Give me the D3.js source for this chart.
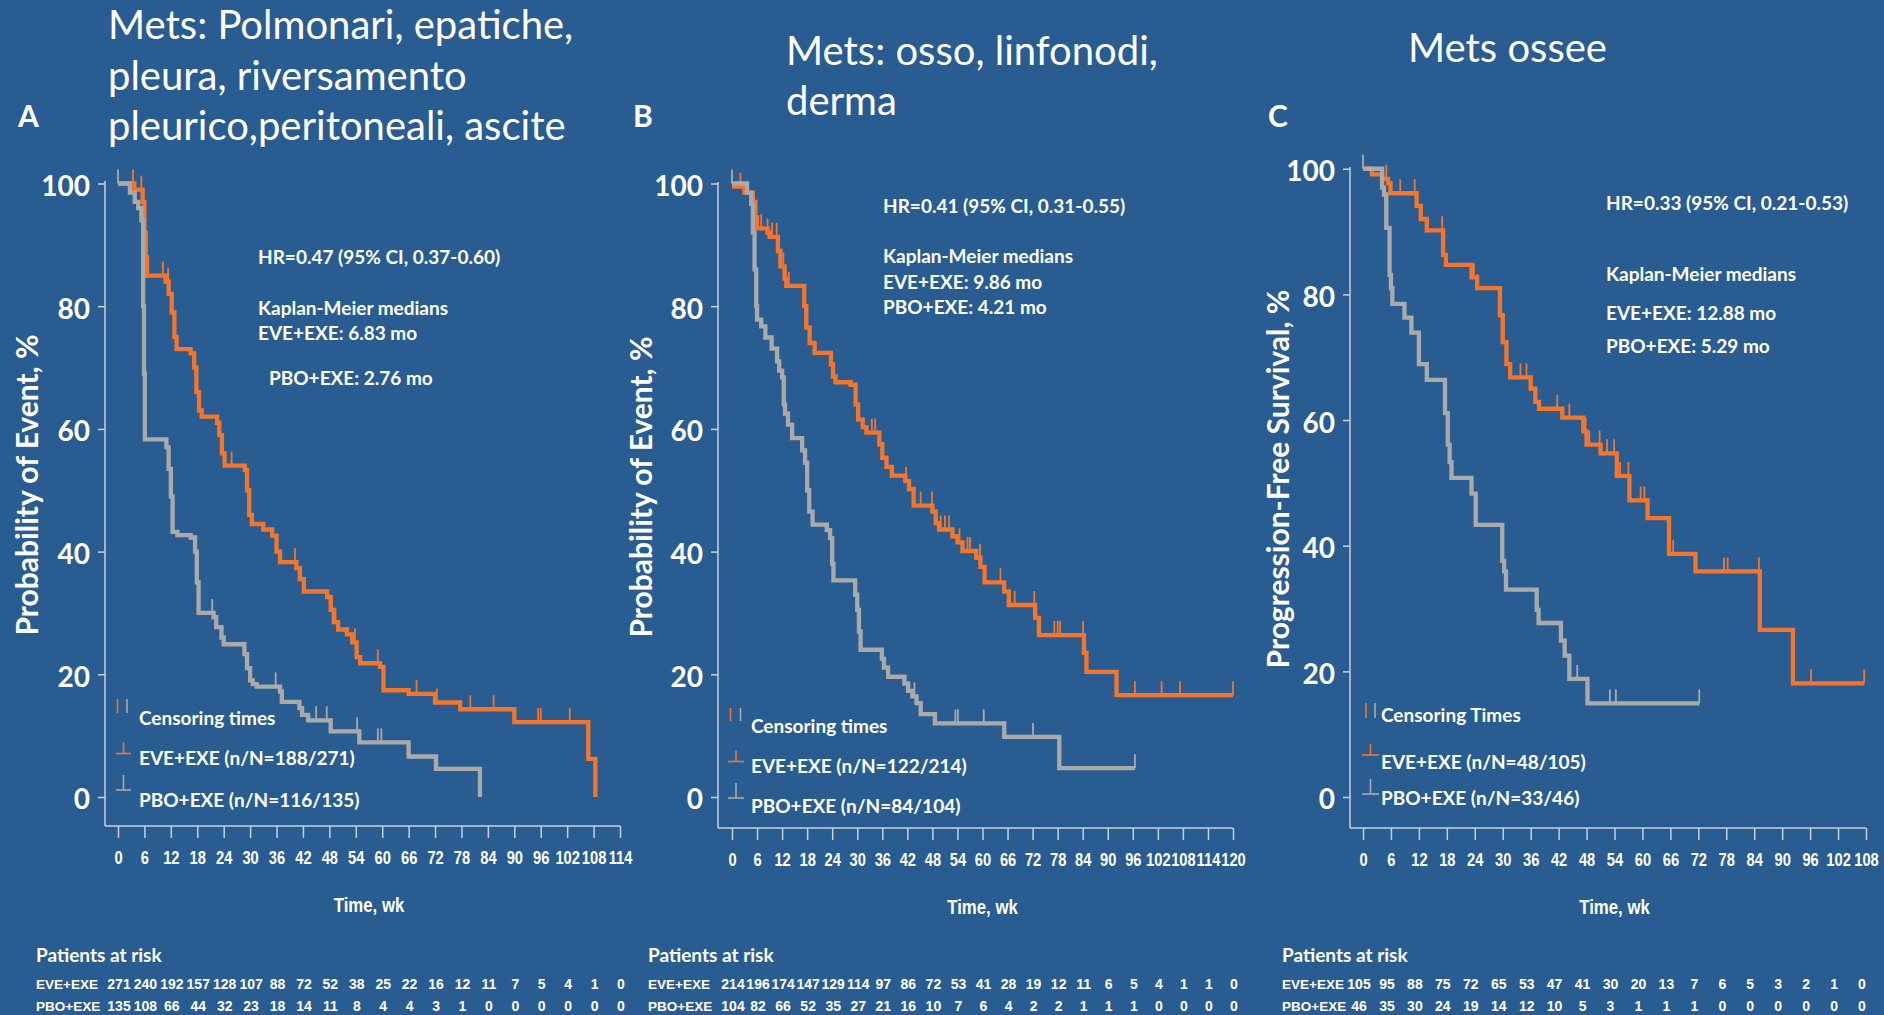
<!DOCTYPE html>
<meta charset="utf-8">
<style>
  body { margin: 0; background: #295c91; }
  svg { display: block; }
</style>
<body>
<script src="https://d3js.org/d3.v7.min.js"></script>
<script>
    // ---------- data ----------
    var weeksA = [0, 6, 12, 18, 24, 30, 36, 42, 48, 54, 60, 66, 72, 78, 84, 90, 96, 102, 108, 114];
    var weeksB = [0, 6, 12, 18, 24, 30, 36, 42, 48, 54, 60, 66, 72, 78, 84, 90, 96, 102, 108, 114, 120];
    var weeksC = [0, 6, 12, 18, 24, 30, 36, 42, 48, 54, 60, 66, 72, 78, 84, 90, 96, 102, 108];
    var yTicks = [0, 20, 40, 60, 80, 100];

    var titleA = ["Mets: Polmonari, epatiche,", "pleura, riversamento", "pleurico,peritoneali, ascite"];
    var titleB = ["Mets: osso, linfonodi,", "derma"];
    var titleC = ["Mets ossee"];

    var notesA = ["HR=0.47 (95% CI, 0.37-0.60)", "Kaplan-Meier medians", "EVE+EXE: 6.83 mo", "PBO+EXE: 2.76 mo"];
    var notesB = ["HR=0.41 (95% CI, 0.31-0.55)", "Kaplan-Meier medians", "EVE+EXE: 9.86 mo", "PBO+EXE: 4.21 mo"];
    var notesC = ["HR=0.33 (95% CI, 0.21-0.53)", "Kaplan-Meier medians", "EVE+EXE: 12.88 mo", "PBO+EXE: 5.29 mo"];

    var legendA = ["Censoring times", "EVE+EXE (n/N=188/271)", "PBO+EXE (n/N=116/135)"];
    var legendB = ["Censoring times", "EVE+EXE (n/N=122/214)", "PBO+EXE (n/N=84/104)"];
    var legendC = ["Censoring Times", "EVE+EXE (n/N=48/105)", "PBO+EXE (n/N=33/46)"];

    // panel A curves (weeks, % )
    var eveTimeA = [0, 3.7, 5.6, 6.0, 6.3, 6.6, 10.8, 11.5, 12.2, 12.8, 13.3, 16.5, 17.3, 17.8, 18.4, 19.0, 22.5, 23.0, 23.6, 24.2, 28.8, 29.3, 29.8, 30.4, 33.0, 35.0, 36.0, 36.8, 40.5, 41.3, 42.2, 47.5, 48.3, 49.0, 50.0, 52.0, 53.2, 54.2, 55.0, 59.5, 60.3, 66.0, 72.0, 77.7, 90.0, 106.8, 108.4];
    var eveSurvA = [100, 99, 97, 92, 88, 85, 84, 82, 79, 75, 73, 72.3, 70, 66, 63, 62, 61, 59, 56, 54, 53.3, 50, 46, 44.5, 43.6, 42.6, 40, 38.3, 37.3, 35.5, 33.5, 32.6, 30.5, 28.5, 27.3, 26.5, 25.2, 22.8, 21.8, 21.2, 17.4, 16.8, 15.4, 14.3, 12.2, 6.2, 0];
    var eveCensA = [3.4, 5.3, 10.2, 11.4, 17.5, 25.8, 36.0, 40.2, 48.6, 49.4, 53.8, 59.0, 67.8, 72.4, 80.0, 85.3, 95.4, 96.0, 102.6];
    var pboTimeA = [0, 2.7, 3.8, 4.6, 5.3, 5.7, 5.9, 6.1, 11.0, 11.5, 12.0, 12.4, 13.5, 16.5, 17.5, 17.9, 18.3, 21.7, 22.3, 23.5, 24.0, 28.7, 29.3, 30.0, 30.6, 31.5, 36.8, 37.2, 41.2, 41.8, 43.2, 48.3, 54.8, 66.0, 72.2, 82.2];
    var pboSurvA = [100, 98.5, 97, 96, 94, 80, 69, 58.3, 57, 53.5, 49, 43.2, 42.7, 42.3, 40, 35, 30, 29.3, 27.7, 26, 24.9, 23.3, 21, 19, 18.4, 18, 17.2, 15.5, 14.5, 13.4, 12.5, 10.7, 8.9, 6.6, 4.6, 0];
    var pboCensA = [0, 21.4, 35.8, 45.0, 47.4, 54.3, 59.0, 59.8, 72.5];

    // panel B curves
    var eveTimeB = [0, 3.0, 5.0, 5.6, 6.0, 8.5, 9.0, 11.0, 11.6, 12.6, 13.0, 17.3, 17.8, 18.6, 19.8, 23.7, 24.2, 24.8, 28.4, 29.6, 30.2, 31.3, 32.2, 35.3, 36.0, 37.0, 38.3, 41.5, 42.4, 43.5, 48.0, 48.8, 49.6, 52.8, 54.0, 55.2, 58.5, 59.5, 60.5, 65.2, 66.3, 72.6, 73.5, 84.3, 84.9, 92.1, 120];
    var eveSurvB = [99.5, 98.5, 97, 94.5, 92.7, 92, 91.3, 89, 86.5, 84.5, 83.3, 80, 76.5, 74, 72.4, 70.5, 68.5, 67.6, 67.2, 64, 61.5, 60.3, 59.4, 57.5, 55.3, 53.8, 52.4, 51.5, 50.2, 47.5, 46.5, 44.6, 43.6, 42.5, 41.5, 40.1, 39.0, 37.5, 35.0, 33.5, 31.3, 29.2, 26.4, 23.5, 20.4, 16.6, 16.6];
    var eveCensB = [2.0, 7.0, 8.5, 9.6, 10.7, 11.2, 12.3, 13.6, 24.3, 33.5, 34.3, 41.7, 45.2, 47.9, 48.9, 50.0, 51.0, 52.0, 54.5, 56.4, 57.0, 59.4, 64.3, 67.7, 72.4, 77.2, 78.0, 78.6, 84.1, 96.5, 102.9, 107.3, 120];
    var pboTimeB = [0, 3.6, 4.6, 5.0, 5.4, 5.8, 6.0, 7.0, 8.0, 9.5, 10.8, 11.3, 12.0, 12.4, 12.7, 13.4, 14.4, 16.8, 17.5, 18.0, 18.5, 19.3, 22.7, 23.5, 24.0, 24.3, 29.5, 30.0, 30.4, 30.8, 35.9, 36.4, 37.4, 41.3, 42.2, 43.2, 44.2, 45.2, 48.6, 65.2, 78.4, 96.5];
    var pboSurvB = [100, 98.5, 96.7, 92, 86, 80, 77.8, 76.7, 74.9, 73.1, 71, 69.5, 68.4, 64, 62.5, 60.7, 58.5, 56.5, 54.5, 50, 46.5, 44.4, 43.5, 42.2, 38, 35.3, 33, 30.5, 27, 24, 22.5, 21.1, 19.6, 18.5, 17.3, 16.4, 15.3, 13.5, 12.0, 9.8, 4.7, 4.7];
    var pboCensB = [0, 43.7, 53.5, 54.1, 60.3, 72.1, 96.5];

    // panel C curves
    var eveTimeC = [0, 1.9, 4.1, 5.4, 5.9, 11.5, 12.4, 13.7, 17.2, 17.8, 23.3, 24.5, 29.4, 30.0, 30.8, 31.6, 36.0, 37.0, 37.8, 42.8, 47.3, 48.0, 51.0, 54.5, 57.2, 61.1, 65.7, 71.4, 85.2, 92.3, 107.6];
    var eveSurvC = [100, 99.1, 98.4, 97.7, 96.1, 94.1, 92, 90.2, 86.3, 84.7, 82.7, 81, 76.7, 72.4, 68.9, 66.8, 65, 62.9, 61.8, 60.4, 58.2, 56.1, 54.7, 51.1, 47.2, 44.4, 38.7, 35.9, 26.6, 18.1, 18.1];
    var eveCensC = [5.0, 8.0, 11.1, 11.6, 17.0, 23.8, 24.6, 33.8, 35.1, 41.7, 44.3, 47.8, 48.6, 50.8, 52.4, 53.9, 55.2, 57.0, 59.6, 60.4, 66.6, 77.5, 78.3, 85.0, 96.2, 107.6];
    var pboTimeC = [0, 4.1, 4.5, 5.0, 5.7, 6.0, 6.3, 8.9, 10.4, 12.0, 13.7, 17.6, 18.2, 18.6, 19.0, 23.3, 24.2, 29.9, 30.3, 30.7, 37.3, 37.7, 42.5, 43.3, 44.3, 48.2, 72.2];
    var pboSurvC = [100, 97, 95.9, 90.6, 83.1, 81, 78.5, 76.3, 73.9, 68.9, 66.4, 61.1, 56.1, 53.3, 50.8, 48.3, 43.3, 37.6, 35.9, 33, 29.8, 27.7, 24.9, 22.5, 18.8, 14.9, 14.9];
    var pboCensC = [0, 46.0, 53.0, 54.3, 72.2];

    // patients at risk
    var riskEveA = [271, 240, 192, 157, 128, 107, 88, 72, 52, 38, 25, 22, 16, 12, 11, 7, 5, 4, 1, 0];
    var riskPboA = [135, 108, 66, 44, 32, 23, 18, 14, 11, 8, 4, 4, 3, 1, 0, 0, 0, 0, 0, 0];
    var riskEveB = [214, 196, 174, 147, 129, 114, 97, 86, 72, 53, 41, 28, 19, 12, 11, 6, 5, 4, 1, 1, 0];
    var riskPboB = [104, 82, 66, 52, 35, 27, 21, 16, 10, 7, 6, 4, 2, 2, 1, 1, 1, 0, 0, 0, 0];
    var riskEveC = [105, 95, 88, 75, 72, 65, 53, 47, 41, 30, 20, 13, 7, 6, 5, 3, 2, 1, 0];
    var riskPboC = [46, 35, 30, 24, 19, 14, 12, 10, 5, 3, 1, 1, 1, 0, 0, 0, 0, 0, 0];

    // ---------- style ----------
    var orange = "#f4762d", grey = "#aaaaaa", axisCol = "#c8d1dc";
    var calibri = "Lato, 'Open Sans', sans-serif";
    var arial = "'Liberation Sans', Arial, sans-serif";

    var svg = d3.select("body").append("svg")
        .attr("width", 1884)
        .attr("height", 1015);
    svg.append("rect").attr("width", 1884).attr("height", 1015).attr("fill", "#295c91");

    var panels = [
        {letter: "A", letterX: 18, title: titleA, titleX: 108, titleY: [39, 90, 140],
         yLabel: "Probability of Event, %", yLabelX: 27, yLabelY: 485,
         weeks: weeksA, xRange: [118, 620], axisX: 105, yRange: [797, 183.5], axisTop: 181, baseY: 826,
         notes: notesA, notesX: [258, 258, 258, 269], notesY: [257, 308, 333, 378],
         legend: legendA, legX: 139, legY: [718, 758, 800], censX: [117.5, 127], censY: [699, 713],
         sampleX: [116, 131], eveLineY: 753.5, pboLineY: 790,
         eve: [eveTimeA, eveSurvA, eveCensA], pbo: [pboTimeA, pboSurvA, pboCensA],
         riskX: 36, riskEve: riskEveA, riskPbo: riskPboA, riskShift: 1},
        {letter: "B", letterX: 633, title: titleB, titleX: 786, titleY: [65, 115],
         yLabel: "Probability of Event, %", yLabelX: 641, yLabelY: 487,
         weeks: weeksB, xRange: [732, 1233], axisX: 718, yRange: [797, 183.5], axisTop: 182, baseY: 828,
         notes: notesB, notesX: [883, 883, 883, 883], notesY: [206, 256, 282, 307],
         legend: legendB, legX: 751, legY: [726, 766, 806], censX: [730.5, 740.5], censY: [708, 721],
         sampleX: [728, 744], eveLineY: 761.5, pboLineY: 798,
         eve: [eveTimeB, eveSurvB, eveCensB], pbo: [pboTimeB, pboSurvB, pboCensB],
         riskX: 648, riskEve: riskEveB, riskPbo: riskPboB, riskShift: 1},
        {letter: "C", letterX: 1268, title: titleC, titleX: 1408, titleY: [62],
         yLabel: "Progression-Free Survival, %", yLabelX: 1278, yLabelY: 479,
         weeks: weeksC, xRange: [1363, 1866], axisX: 1350, yRange: [797, 168.75], axisTop: 167, baseY: 828,
         notes: notesC, notesX: [1606, 1606, 1606, 1606], notesY: [203, 274, 313, 346],
         legend: legendC, legX: 1381, legY: [715, 762, 798], censX: [1366, 1375], censY: [703, 718],
         sampleX: [1362, 1379], eveLineY: 755, pboLineY: 794,
         eve: [eveTimeC, eveSurvC, eveCensC], pbo: [pboTimeC, pboSurvC, pboCensC],
         riskX: 1282, riskEve: riskEveC, riskPbo: riskPboC, riskShift: -4}
    ];

    function valueAt(times, surv, t) {
        var i = d3.bisectRight(times, t) - 1;
        return surv[Math.max(0, i)];
    }

    panels.forEach(function(p) {
        var g = svg.append("g");
        var x = d3.scaleLinear().domain([0, p.weeks[p.weeks.length - 1]]).range(p.xRange);
        var y = d3.scaleLinear().domain([0, 100]).range(p.yRange);

        // panel letter + title
        g.append("text").attr("x", p.letterX).attr("y", 127)
            .attr("font-family", calibri).attr("font-weight", "bold").attr("font-size", 30)
            .attr("fill", "#fff").text(p.letter);
        g.selectAll(".title").data(p.title).join("text")
            .attr("x", p.titleX).attr("y", function(d, i) { return p.titleY[i]; })
            .attr("font-family", calibri).attr("font-size", 40).attr("fill", "#fff")
            .text(function(d) { return d; });

        // y axis
        var ya = g.append("g").attr("transform", "translate(" + p.axisX + ",0)")
            .call(d3.axisLeft(y).tickValues(yTicks).tickSize(7).tickPadding(8));
        ya.select(".domain").remove();
        ya.selectAll("line").attr("stroke", axisCol).attr("stroke-width", 1.5);
        ya.selectAll("text").attr("fill", "#fff").attr("y", 3)
            .attr("font-family", calibri).attr("font-weight", "bold").attr("font-size", 28);
        g.append("line").attr("x1", p.axisX).attr("x2", p.axisX)
            .attr("y1", p.axisTop).attr("y2", p.baseY)
            .attr("stroke", axisCol).attr("stroke-width", 1.5);

        g.append("text")
            .attr("transform", "translate(" + p.yLabelX + "," + p.yLabelY + ") rotate(-90)")
            .attr("text-anchor", "middle").attr("dy", "0.35em")
            .attr("font-family", calibri).attr("font-weight", "bold").attr("font-size", 30)
            .attr("fill", "#fff").text(p.yLabel);

        // x axis
        var xa = g.append("g").attr("transform", "translate(0," + p.baseY + ")")
            .call(d3.axisBottom(x).tickValues(p.weeks).tickSize(12));
        xa.select(".domain").remove();
        xa.selectAll("line").attr("stroke", axisCol).attr("stroke-width", 1.5);
        xa.selectAll("text").attr("fill", "#fff").attr("y", 32).attr("dy", "0.35em")
            .attr("transform", "scale(0.84,1)")
            .attr("font-family", arial).attr("font-weight", "bold").attr("font-size", 17.5);
        g.append("line").attr("x1", p.axisX).attr("x2", p.xRange[1])
            .attr("y1", p.baseY).attr("y2", p.baseY)
            .attr("stroke", axisCol).attr("stroke-width", 1.5);

        var midX = (p.xRange[0] + p.xRange[1]) / 2;
        g.append("text")
            .attr("transform", "translate(" + midX + "," + (p.baseY + 79) + ") scale(0.84,1)")
            .attr("text-anchor", "middle").attr("dy", "0.35em")
            .attr("font-family", arial).attr("font-weight", "bold").attr("font-size", 20)
            .attr("fill", "#fff").text("Time, wk");

        // curves: orange first, grey on top
        var line = d3.line()
            .x(function(d) { return x(d[0]); })
            .y(function(d) { return y(d[1]); })
            .curve(d3.curveStepAfter);

        [[p.eve, orange], [p.pbo, grey]].forEach(function(s) {
            var times = s[0][0], surv = s[0][1], cens = s[0][2];
            g.append("path").datum(d3.zip(times, surv))
                .attr("d", line).attr("fill", "none")
                .attr("stroke", s[1]).attr("stroke-width", 4.3);
            g.selectAll(null).data(cens).join("line")
                .attr("x1", function(t) { return x(t); })
                .attr("x2", function(t) { return x(t); })
                .attr("y1", function(t) { return y(valueAt(times, surv, t)); })
                .attr("y2", function(t) { return y(valueAt(times, surv, t)) - 14; })
                .attr("stroke", s[1]).attr("stroke-width", 1.8);
        });

        // annotations
        g.selectAll(".note").data(p.notes).join("text")
            .attr("x", function(d, i) { return p.notesX[i]; })
            .attr("y", function(d, i) { return p.notesY[i]; })
            .attr("dy", "0.35em")
            .attr("font-family", calibri).attr("font-weight", "bold").attr("font-size", 19)
            .attr("fill", "#fff").text(function(d) { return d; });

        // legend
        g.selectAll(".leg").data(p.legend).join("text")
            .attr("x", p.legX).attr("y", function(d, i) { return p.legY[i]; })
            .attr("dy", "0.35em")
            .attr("font-family", calibri).attr("font-weight", "bold").attr("font-size", 19)
            .attr("fill", "#fff").text(function(d) { return d; });
        [orange, grey].forEach(function(c, i) {
            g.append("line").attr("x1", p.censX[i]).attr("x2", p.censX[i])
                .attr("y1", p.censY[0]).attr("y2", p.censY[1])
                .attr("stroke", c).attr("stroke-width", 1.6);
        });
        var midS = (p.sampleX[0] + p.sampleX[1]) / 2;
        [[p.eveLineY, orange, 11], [p.pboLineY, grey, 15]].forEach(function(s) {
            g.append("line").attr("x1", p.sampleX[0]).attr("x2", p.sampleX[1])
                .attr("y1", s[0]).attr("y2", s[0]).attr("stroke", s[1]).attr("stroke-width", 1.6);
            g.append("line").attr("x1", midS).attr("x2", midS)
                .attr("y1", s[0] - s[2]).attr("y2", s[0]).attr("stroke", s[1]).attr("stroke-width", 1.6);
        });

        // patients at risk
        g.append("text").attr("x", p.riskX).attr("y", 955).attr("dy", "0.35em")
            .attr("font-family", calibri).attr("font-weight", "bold").attr("font-size", 19)
            .attr("fill", "#fff").text("Patients at risk");
        [["EVE+EXE", p.riskEve, 984], ["PBO+EXE", p.riskPbo, 1006]].forEach(function(r) {
            g.append("text").attr("x", p.riskX).attr("y", r[2]).attr("dy", "0.35em")
                .attr("font-family", arial).attr("font-weight", "bold").attr("font-size", 13.5)
                .attr("fill", "#fff").text(r[0]);
            g.selectAll(null).data(r[1]).join("text")
                .attr("x", function(d, i) { return x(p.weeks[i]) + p.riskShift; })
                .attr("y", r[2]).attr("dy", "0.35em").attr("text-anchor", "middle")
                .attr("font-family", arial).attr("font-weight", "bold").attr("font-size", 14)
                .attr("fill", "#fff").text(function(d) { return d; });
        });
    });
</script>
</body>
